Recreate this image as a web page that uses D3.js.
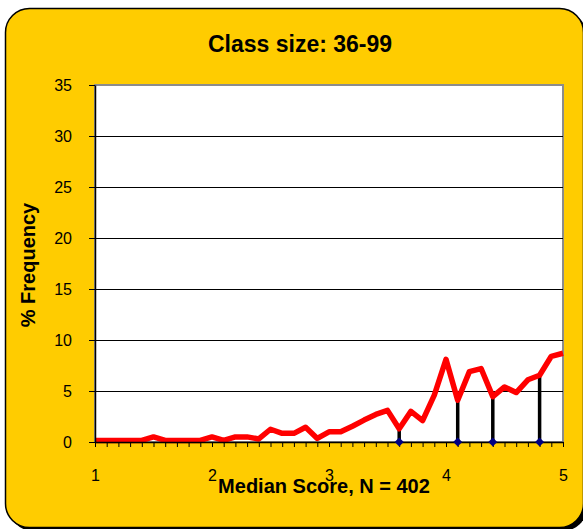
<!DOCTYPE html>
<html>
<head>
<meta charset="utf-8">
<script src="https://cdn.jsdelivr.net/npm/d3@7"></script>
<style>
  body { margin: 0; background: #fff; }
  svg { display: block; font-family: "Liberation Sans", Arial, sans-serif; }
  .axis path, .axis line { stroke: #000; }
  .axis text { font-size: 16px; fill: #000; }
</style>
</head>
<body>
<svg id="chart" width="583" height="529"></svg>
<script>
// median score categories (x) and % frequency (y)
var scores = [1.0, 1.1, 1.2, 1.3, 1.4, 1.5, 1.6, 1.7, 1.8, 1.9,
              2.0, 2.1, 2.2, 2.3, 2.4, 2.5, 2.6, 2.7, 2.8, 2.9,
              3.0, 3.1, 3.2, 3.3, 3.4, 3.5, 3.6, 3.7, 3.8, 3.9,
              4.0, 4.1, 4.2, 4.3, 4.4, 4.5, 4.6, 4.7, 4.8, 4.9, 5.0];
var frequency = [0.15, 0.15, 0.15, 0.15, 0.15, 0.5, 0.15, 0.15, 0.15, 0.15,
                 0.5, 0.15, 0.5, 0.5, 0.3, 1.25, 0.85, 0.85, 1.45, 0.35,
                 1.0, 1.0, 1.55, 2.15, 2.7, 3.1, 1.3, 3.0, 2.1, 4.6,
                 8.1, 4.1, 6.9, 7.2, 4.45, 5.4, 4.85, 6.1, 6.55, 8.4, 8.7];

// highlighted scores (drop lines with markers)
var markScores = [3.6, 4.1, 4.4, 4.8];
var markValues = [1.3, 4.1, 4.45, 6.55];

var xTickLabels = [1, 2, 3, 4, 5];
var yTicks = [0, 5, 10, 15, 20, 25, 30, 35];

var title = "Class size: 36-99";
var xName = "Median Score, N = 402";
var yName = "% Frequency";

var margin = {top: 85, right: 20, bottom: 87, left: 95};
var width = 563 - margin.left;
var height = 442 - margin.top;

var svg = d3.select("#chart");

// background card with a dark shadow
svg.append("rect")
  .attr("x", 9).attr("y", 12)
  .attr("width", 578).attr("height", 519)
  .attr("rx", 24).attr("ry", 24)
  .attr("fill", "#000");

svg.append("rect")
  .attr("x", 5.5).attr("y", 8.5)
  .attr("width", 578).attr("height", 519)
  .attr("rx", 24).attr("ry", 24)
  .attr("fill", "#FFCC00")
  .attr("stroke", "#000")
  .attr("stroke-width", 1.5);

var g = svg.append("g")
  .attr("transform", "translate(" + margin.left + "," + margin.top + ")");

var x = d3.scaleLinear().domain([1, 5]).range([0, width]);
var y = d3.scaleLinear().domain([0, 35]).range([height, 0]);

// plot area
g.append("rect")
  .attr("width", width).attr("height", height)
  .attr("fill", "#fff")
  .attr("stroke", "#8c8c8c")
  .attr("stroke-width", 2);

// gridlines
g.selectAll(".grid")
  .data(yTicks.filter(function(d) { return d > 0 && d < 35; }))
  .enter().append("line")
  .attr("class", "grid")
  .attr("x1", 0).attr("x2", width)
  .attr("y1", function(d) { return Math.round(y(d)) + 0.5; })
  .attr("y2", function(d) { return Math.round(y(d)) + 0.5; })
  .attr("stroke", "#000")
  .attr("stroke-width", 1);

// drop lines
g.selectAll(".drop")
  .data(markScores)
  .enter().append("line")
  .attr("class", "drop")
  .attr("x1", function(d) { return x(d); })
  .attr("x2", function(d) { return x(d); })
  .attr("y1", y(0))
  .attr("y2", function(d, i) { return y(markValues[i]); })
  .attr("stroke", "#000")
  .attr("stroke-width", 3.5);

// frequency line
var line = d3.line()
  .x(function(d, i) { return x(scores[i]); })
  .y(function(d) { return y(d); });

g.append("path")
  .datum(frequency)
  .attr("d", line)
  .attr("fill", "none")
  .attr("stroke", "#FF0000")
  .attr("stroke-width", 5.5)
  .attr("stroke-linejoin", "round");

// axes
g.append("g")
  .attr("class", "axis")
  .attr("transform", "translate(0," + height + ")")
  .call(d3.axisBottom(x).tickValues(scores).tickSize(5).tickSizeOuter(0).tickFormat(""))
  .select(".domain").attr("stroke-width", 1.5);

g.append("g")
  .attr("class", "axis")
  .attr("transform", "translate(0," + height + ")")
  .call(d3.axisBottom(x).tickValues(xTickLabels).tickSize(0).tickPadding(28).tickFormat(d3.format("d")))
  .call(function(a) { a.select(".domain").remove(); });

g.append("g")
  .attr("class", "axis")
  .call(d3.axisLeft(y).tickValues(yTicks).tickSize(6).tickSizeOuter(0).tickPadding(17))
  .select(".domain").attr("stroke-width", 1.5);

// markers at the foot of drop lines
g.selectAll(".marker")
  .data(markScores)
  .enter().append("path")
  .attr("class", "marker")
  .attr("transform", function(d) { return "translate(" + x(d) + "," + y(0) + ") rotate(45)"; })
  .attr("d", d3.symbol().type(d3.symbolSquare).size(40))
  .attr("fill", "#000080");

// titles
svg.append("text")
  .attr("x", 300).attr("y", 52)
  .attr("text-anchor", "middle")
  .attr("font-size", 23).attr("font-weight", "bold")
  .text(title);

svg.append("text")
  .attr("x", 324).attr("y", 493)
  .attr("text-anchor", "middle")
  .attr("font-size", 20).attr("font-weight", "bold")
  .text(xName);

svg.append("text")
  .attr("transform", "translate(35," + 265 + ") rotate(-90)")
  .attr("text-anchor", "middle")
  .attr("font-size", 20).attr("font-weight", "bold")
  .text(yName);
</script>
</body>
</html>
